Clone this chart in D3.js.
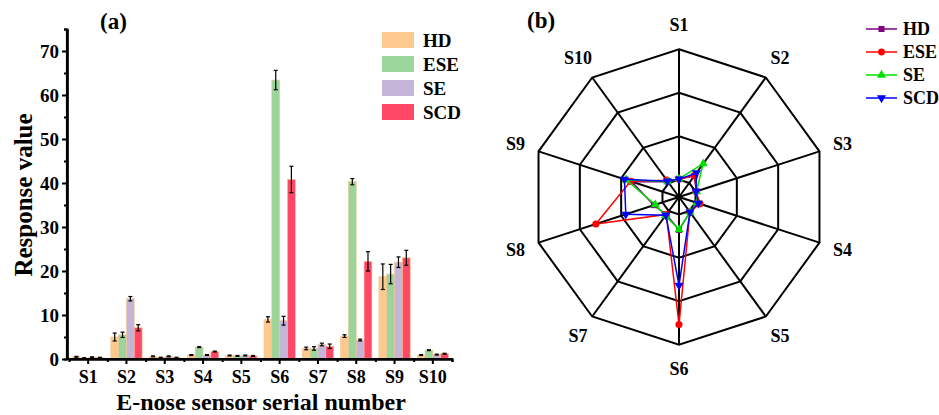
<!DOCTYPE html>
<html>
<head>
    <meta charset="utf-8">
    <title>E-nose response</title>
    <script src="https://cdn.jsdelivr.net/npm/d3@7"></script>
    <style>
        body { margin: 0; background: #fff; }
        svg text { font-family: "Times New Roman", "Liberation Serif", serif; font-weight: bold; fill: #000; }
    </style>
</head>
<body>
<script>
    var width = 939, height = 415;

    var sensors = ["S1", "S2", "S3", "S4", "S5", "S6", "S7", "S8", "S9", "S10"];
    var groups = ["HD", "ESE", "SE", "SCD"];

    // mean response per group, S1..S10
    var hd  = [0.5, 5.0, 0.6, 0.9, 0.8, 9.0, 2.4, 5.2, 18.7, 0.9];
    var ese = [0.2, 5.5, 0.3, 2.7, 0.7, 63.4, 2.4, 40.3, 19.3, 2.0];
    var se  = [0.4, 13.7, 0.6, 0.9, 0.8, 8.7, 3.3, 4.3, 22.0, 1.0];
    var scd = [0.3, 7.1, 0.3, 1.7, 0.7, 40.8, 2.9, 22.2, 23.0, 1.2];

    // standard deviations
    var hdErr  = [0.1, 0.9, 0.1, 0.1, 0.1, 0.6, 0.3, 0.3, 2.9, 0.1];
    var eseErr = [0.1, 0.6, 0.1, 0.1, 0.1, 2.2, 0.4, 0.7, 2.2, 0.1];
    var seErr  = [0.1, 0.5, 0.1, 0.1, 0.1, 1.0, 0.3, 0.2, 1.2, 0.1];
    var scdErr = [0.1, 0.7, 0.1, 0.1, 0.1, 3.0, 0.5, 2.2, 1.7, 0.1];

    var yTicks = [0, 10, 20, 30, 40, 50, 60, 70];
    var ringValues = [0, 25, 50, 75];

    var series = [hd, ese, se, scd];
    var errs = [hdErr, eseErr, seErr, scdErr];
    var barColors = ["#fec98f", "#9bd59b", "#c3b4d8", "#ff4767"];
    var lineColors = ["#800080", "#ff0000", "#00e000", "#0000ff"];
    var symbols = [d3.symbolSquare, d3.symbolCircle, d3.symbolTriangle, d3.symbolTriangle];

    var svg = d3.select("body").append("svg")
            .attr("width", width)
            .attr("height", height);

    // ---------- (a) bar chart ----------
    var x = d3.scaleBand().domain(sensors).range([69, 452]);
    var xInner = d3.scaleBand().domain(groups).range([3.5, x.bandwidth() - 3.5]);
    var y = d3.scaleLinear().domain([0, 75]).range([359, 29]);

    var a = svg.append("g");

    var rows = [];
    sensors.forEach(function (s, i) {
        groups.forEach(function (g, j) {
            rows.push({s: s, g: g, j: j, v: series[j][i], e: errs[j][i]});
        });
    });

    a.selectAll("rect.bar").data(rows).enter().append("rect")
            .attr("class", "bar")
            .attr("x", function (d) { return x(d.s) + xInner(d.g); })
            .attr("width", xInner.bandwidth())
            .attr("y", function (d) { return y(d.v); })
            .attr("height", function (d) { return y(0) - y(d.v); })
            .attr("fill", function (d) { return barColors[d.j]; })
            .attr("stroke", "#f6c58e")
            .attr("stroke-width", 0.6);

    var eb = a.selectAll("g.err").data(rows).enter().append("g")
            .attr("class", "err")
            .attr("transform", function (d) {
                return "translate(" + (x(d.s) + xInner(d.g) + xInner.bandwidth() / 2) + ",0)";
            })
            .attr("stroke", "#000")
            .attr("stroke-width", 1.2);
    eb.append("line")
            .attr("y1", function (d) { return y(d.v + d.e); })
            .attr("y2", function (d) { return y(Math.max(0, d.v - d.e)); });
    eb.append("line").attr("x1", -2).attr("x2", 2)
            .attr("y1", function (d) { return y(d.v + d.e); })
            .attr("y2", function (d) { return y(d.v + d.e); });
    eb.append("line").attr("x1", -2).attr("x2", 2)
            .attr("y1", function (d) { return y(Math.max(0, d.v - d.e)); })
            .attr("y2", function (d) { return y(Math.max(0, d.v - d.e)); });

    // y axis
    var yAxis = a.append("g").attr("transform", "translate(67,0)")
            .call(d3.axisLeft(y).tickValues(yTicks).tickSize(5).tickSizeOuter(0).tickPadding(3));
    a.append("g").attr("transform", "translate(67,0)")
            .call(d3.axisLeft(y).tickValues(d3.range(5, 80, 10)).tickSize(3).tickFormat(""));

    // x axis
    var xAxis = a.append("g").attr("transform", "translate(0,359)")
            .call(d3.axisBottom(x).tickSize(5).tickSizeOuter(0).tickPadding(6));
    a.append("g").attr("transform", "translate(0,359)")
            .call(d3.axisBottom(d3.scaleLinear().domain([0, 10]).range([69, 452]))
                    .tickValues(d3.range(1, 11)).tickSize(3).tickFormat(""));

    a.selectAll(".domain, .tick line").attr("stroke", "#000").attr("stroke-width", 2);
    a.selectAll(".domain").attr("stroke-width", 2.2);
    a.append("line").attr("x1", 66).attr("x2", 453).attr("y1", 359).attr("y2", 359)
            .attr("stroke", "#000").attr("stroke-width", 2.2);
    a.append("line").attr("x1", 67).attr("x2", 67).attr("y1", 29).attr("y2", 360)
            .attr("stroke", "#000").attr("stroke-width", 2.2);

    yAxis.selectAll("text").style("font-size", "19px").attr("font-family", null);
    xAxis.selectAll("text").style("font-size", "18px").attr("font-family", null);

    a.append("text")
            .attr("transform", "translate(32,195) rotate(-90)")
            .attr("text-anchor", "middle")
            .style("font-size", "25px")
            .text("Response value");
    a.append("text")
            .attr("x", 261).attr("y", 410)
            .attr("text-anchor", "middle")
            .style("font-size", "24px")
            .text("E-nose sensor serial number");
    a.append("text")
            .attr("x", 100).attr("y", 29)
            .style("font-size", "23px")
            .text("(a)");

    // legend (a)
    var la = a.selectAll("g.lega").data(groups).enter().append("g")
            .attr("class", "lega")
            .attr("transform", function (d, i) { return "translate(382," + (40 + i * 24) + ")"; });
    la.append("rect").attr("x", 0).attr("y", -8).attr("width", 32).attr("height", 16)
            .attr("fill", function (d, i) { return barColors[i]; });
    la.append("text").attr("x", 41).attr("dy", "0.35em")
            .style("font-size", "19px")
            .text(function (d) { return d; });

    // ---------- (b) radar chart ----------
    var cx = 679, cy = 197;
    var r = d3.scaleLinear().domain([-10, 75]).range([0, 147.7]);
    var angle = d3.scaleLinear().domain([0, sensors.length]).range([0, 2 * Math.PI]);

    function px(i, v) { return cx + r(v) * Math.sin(angle(i)); }
    function py(i, v) { return cy - r(v) * Math.cos(angle(i)); }

    var b = svg.append("g");

    b.selectAll("path.ring").data(ringValues).enter().append("path")
            .attr("class", "ring")
            .attr("d", function (v) {
                return d3.line()(sensors.map(function (s, i) { return [px(i, v), py(i, v)]; })) + "Z";
            })
            .attr("fill", "none")
            .attr("stroke", "#000")
            .attr("stroke-width", 2);

    b.selectAll("line.spoke").data(sensors).enter().append("line")
            .attr("x1", cx).attr("y1", cy)
            .attr("x2", function (s, i) { return px(i, 75); })
            .attr("y2", function (s, i) { return py(i, 75); })
            .attr("stroke", "#000")
            .attr("stroke-width", 2);

    b.selectAll("text.axlab").data(sensors).enter().append("text")
            .attr("x", function (s, i) { return cx + 172 * Math.sin(angle(i)); })
            .attr("y", function (s, i) { return cy - 172 * Math.cos(angle(i)); })
            .attr("text-anchor", "middle")
            .attr("dy", "0.35em")
            .style("font-size", "18px")
            .text(function (s) { return s; });

    series.forEach(function (vals, j) {
        var pts = vals.map(function (v, i) { return [px(i, v), py(i, v)]; });
        b.append("path")
                .attr("d", d3.line()(pts) + "Z")
                .attr("fill", "none")
                .attr("stroke", lineColors[j])
                .attr("stroke-width", 1.5);
        b.selectAll(null).data(pts).enter().append("path")
                .attr("d", d3.symbol().type(symbols[j]).size(j === 1 ? 40 : 36))
                .attr("transform", function (p) {
                    return "translate(" + p[0] + "," + p[1] + ")" + (j === 3 ? " rotate(180)" : "");
                })
                .attr("fill", lineColors[j]);
    });

    b.append("text")
            .attr("x", 527).attr("y", 28)
            .style("font-size", "23px")
            .text("(b)");

    // legend (b)
    var lb = b.selectAll("g.legb").data(groups).enter().append("g")
            .attr("class", "legb")
            .attr("transform", function (d, i) { return "translate(866," + (29 + i * 23) + ")"; });
    lb.append("line").attr("x1", 0).attr("x2", 31)
            .attr("stroke", function (d, i) { return lineColors[i]; })
            .attr("stroke-width", 1.5);
    lb.append("path")
            .attr("d", function (d, i) { return d3.symbol().type(symbols[i]).size(36)(); })
            .attr("transform", function (d, i) { return "translate(15.5,0)" + (i === 3 ? " rotate(180)" : ""); })
            .attr("fill", function (d, i) { return lineColors[i]; });
    lb.append("text").attr("x", 37).attr("dy", "0.35em")
            .style("font-size", "18px")
            .text(function (d) { return d; });
</script>
</body>
</html>
